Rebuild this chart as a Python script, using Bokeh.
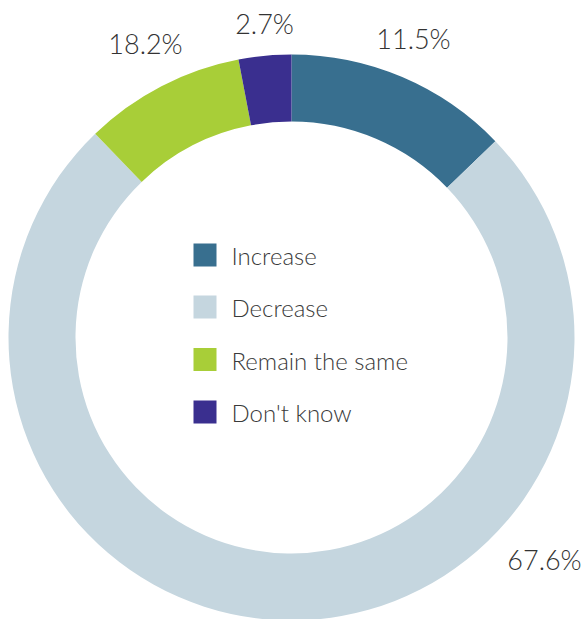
import math
from bokeh.plotting import figure
from bokeh.models import Range1d, ColumnDataSource
from bokeh.core.properties import value
from bokeh.embed import file_html
from bokeh.resources import INLINE

# ---- data ----
categories = ["Increase", "Decrease", "Remain the same", "Don't know"]
# slice sizes as drawn in the picture (percent of the ring)
shares = [12.8, 75.0, 9.2, 3.0]
# printed labels
pct_labels = ["11.5%", "67.6%", "18.2%", "2.7%"]
colors = ["#386F8F", "#C5D6DF", "#A8CE38", "#3A2F8F"]

# ---- layout (pixels, page coordinates) ----
W, H = 585, 619
cx_px, cy_px = 291, 337
r_out, r_in = 283, 216
label_px = [(413, 37.5), (544, 558.5), (145, 43), (264, 22.5)]
FONT = "Lato Light"

def py(y):
    return H - y

p = figure(width=W, height=H, output_backend="svg", toolbar_location=None,
           x_range=Range1d(0, W), y_range=Range1d(0, H), min_border=0)
p.axis.visible = False
p.grid.visible = False
p.outline_line_color = None
p.background_fill_color = "white"
p.border_fill_color = "white"

total = sum(shares)
starts, ends = [], []
cum = 0.0
for s in shares:
    a0 = math.pi / 2 - 2 * math.pi * cum / total
    cum += s
    a1 = math.pi / 2 - 2 * math.pi * cum / total
    starts.append(a0)
    ends.append(a1)

src = ColumnDataSource(dict(x=[cx_px] * 4, y=[py(cy_px)] * 4, start=starts, end=ends,
                            color=colors, cat=categories))
p.annular_wedge(x="x", y="y", inner_radius=r_in, outer_radius=r_out,
                start_angle="start", end_angle="end", direction="clock",
                fill_color="color", line_color=None, source=src)

# percentage labels
lsrc = ColumnDataSource(dict(x=[a for a, b in label_px],
                             y=[py(b) for a, b in label_px],
                             t=pct_labels))
p.text(x="x", y="y", text="t", source=lsrc, text_align="center",
       text_baseline="middle", text_font=value(FONT),
       text_font_size="27px", text_color="#333333")

# legend
sq = 23
row_centers = [254.5, 306.5, 359, 411.5]
legsrc = ColumnDataSource(dict(x=[204.5] * 4, y=[py(c) for c in row_centers],
                               color=colors,
                               tx=[231] * 4,
                               ty=[py(c + 0.5) for c in row_centers],
                               t=categories))
p.rect(x="x", y="y", width=sq, height=sq, fill_color="color", line_color=None,
       source=legsrc)
p.text(x="tx", y="ty", text="t", source=legsrc, text_align="left",
       text_baseline="middle", text_font=value(FONT),
       text_font_size="24px", text_color="#3a3a3a")

open("out.html", "w").write(file_html(p, INLINE))
